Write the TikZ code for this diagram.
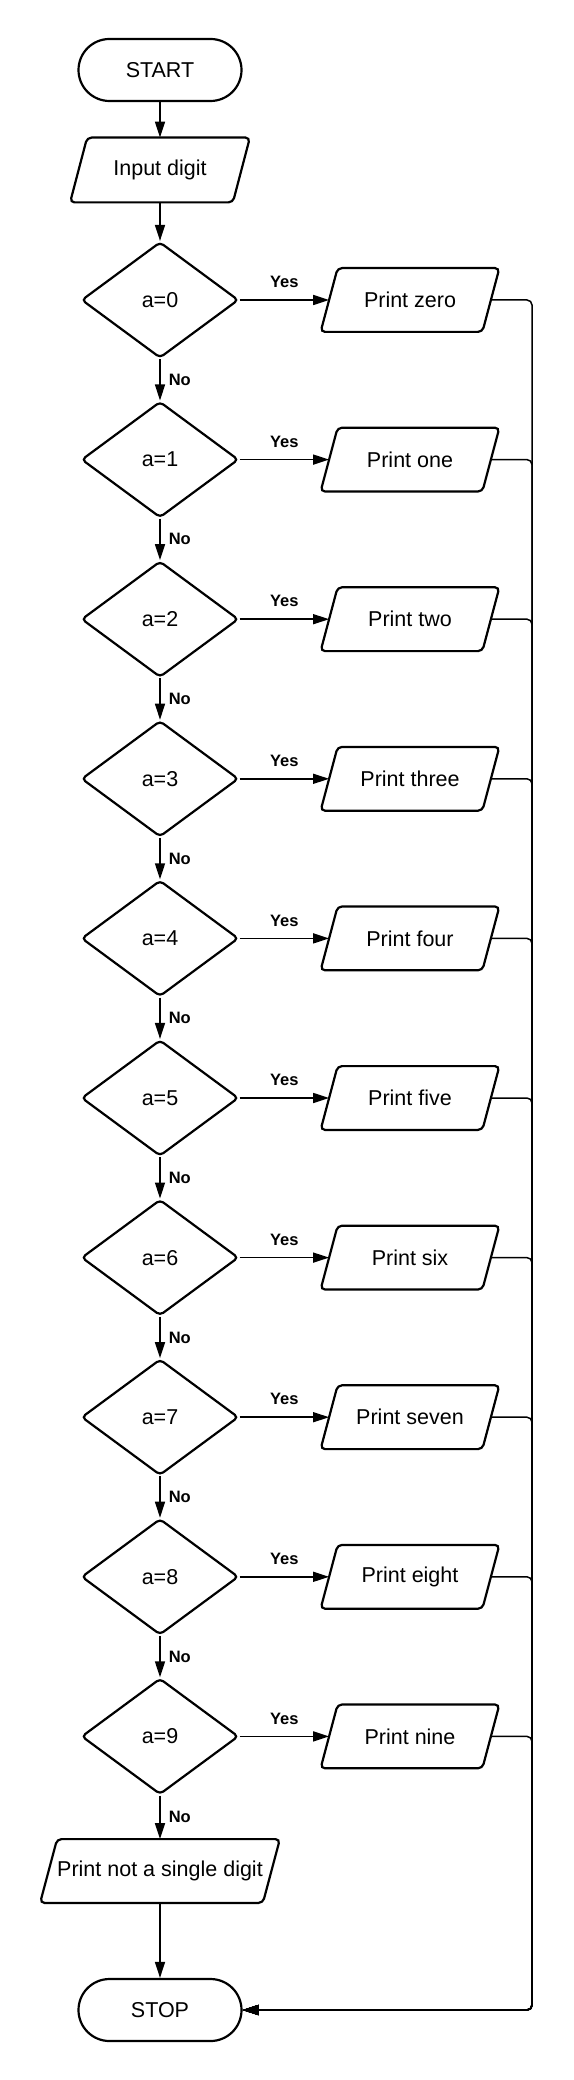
\documentclass[tikz,border=0pt]{standalone}
\usepackage{fontspec}
\setmainfont{Liberation Sans}
\usetikzlibrary{shapes.geometric,arrows.meta}
\begin{document}
\begin{tikzpicture}[x=0.5pt,y=-0.5pt,
  base/.style={draw=black, line width=1.1pt, font=\fontsize{10.75pt}{12pt}\selectfont, inner sep=0pt},
  term/.style={base, rectangle, rounded corners=15.5pt, minimum width=81.5pt, minimum height=31pt},
  io/.style={rectangle, inner sep=0pt, font=\fontsize{10.75pt}{12pt}\selectfont,
    minimum width=#1, minimum height=31.5pt,
    append after command={\pgfextra{\draw[line width=1.1pt, rounded corners=2.2pt]
      ([xshift=4.25pt]\tikzlastnode.north west) -- ([xshift=4.25pt]\tikzlastnode.north east)
      -- ([xshift=-4.25pt]\tikzlastnode.south east) -- ([xshift=-4.25pt]\tikzlastnode.south west) -- cycle;}}},
  io/.default=80.5pt,
  dec/.style={base, diamond, minimum width=78.5pt, minimum height=58pt, rounded corners=2pt},
  arr/.style={line width=0.75pt, -{Triangle[length=8pt,width=5pt]}},
  lbl/.style={font=\fontsize{8.25pt}{10pt}\selectfont\bfseries, inner sep=0pt}
]
\fill[white] (0,0) rectangle (573,2080);
\useasboundingbox (0,0) rectangle (573,2080);

\node[term] (start) at (160,70) {START};
\node[io=81pt, minimum height=32pt] (input) at (160,170) {Input digit};
\foreach \k/\t in {0/zero,1/one,2/two,3/three,4/four,5/five,6/six,7/seven,8/eight,9/nine} {
  \node[dec] (d\k) at (160,{300+159.6*\k}) {a=\k};
  \node[io] (p\k) at (410,{300+159.6*\k}) {Print \t};
}
\node[io=111pt] (pnot) at (160,1871) {Print not a single digit};
\node[term] (stop) at (160,2010) {STOP};
\coordinate (bus) at (532,0);

\draw[arr] (start.south) -- (input.north);
\draw[arr] (input.south) -- (d0.north);
\foreach \k in {0,...,8} {
  \pgfmathtruncatemacro\nxt{\k+1}
  \draw[arr] (d\k.south) -- node[lbl, midway, anchor=west, xshift=4pt] {No} (d\nxt.north);
}
\draw[arr] (d9.south) -- node[lbl, midway, anchor=west, xshift=4pt] {No} (pnot.north);
\draw[arr] (pnot.south) -- (stop.north);
\foreach \k in {0,...,9} {
  \draw[arr] (d\k.east) -- node[lbl, midway, yshift=9pt] {Yes} (p\k.west);
  \draw[arr, rounded corners=2.5pt] (p\k.east) -- (p\k.east -| bus) |- (stop.east);
}
\end{tikzpicture}
\end{document}
